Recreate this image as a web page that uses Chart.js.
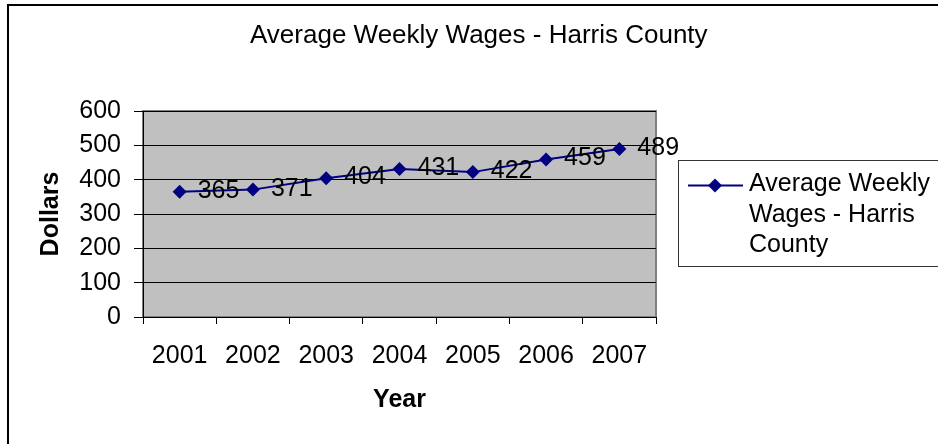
<!DOCTYPE html>
<html>
<head>
<meta charset="utf-8">
<title>Average Weekly Wages - Harris County</title>
<script src="https://cdn.jsdelivr.net/npm/chart.js@4/dist/chart.umd.min.js"></script>
<style>
  body { margin: 0; background: #ffffff; }
  canvas { display: block; }
</style>
</head>
<body>
<canvas id="myChart" width="938" height="444"></canvas>
<script>
// Datos del gráfico
var years = ['2001', '2002', '2003', '2004', '2005', '2006', '2007'];
var wages = [365, 371, 404, 431, 422, 459, 489];
var yTicks = [0, 100, 200, 300, 400, 500, 600];
var chartTitle = 'Average Weekly Wages - Harris County';
var legendLines = ['Average Weekly', 'Wages - Harris', 'County'];

var fontFamily = "'Liberation Sans', Arial, Helvetica, sans-serif";
var navy = '#000080';

Chart.defaults.font.family = fontFamily;
Chart.defaults.font.size = 25;
Chart.defaults.color = '#000000';

// Marco, fondo gris del área de trazado, título y leyenda al estilo Excel
var excelPlugin = {
    id: 'excelPlugin',
    beforeDraw: function (chart) {
        var ctx = chart.ctx;
        var area = chart.chartArea;
        ctx.save();
        ctx.fillStyle = '#ffffff';
        ctx.fillRect(0, 0, chart.width, chart.height);
        // borde exterior
        ctx.strokeStyle = '#000000';
        ctx.lineWidth = 2;
        ctx.strokeRect(8, 5, chart.width + 20, chart.height + 20);
        // área de trazado
        ctx.fillStyle = '#c0c0c0';
        ctx.fillRect(area.left, area.top, area.right - area.left, area.bottom - area.top);
        ctx.strokeStyle = '#808080';
        ctx.lineWidth = 2;
        ctx.strokeRect(area.left, area.top, area.right - area.left, area.bottom - area.top);
        ctx.restore();
    },
    afterDatasetsDraw: function (chart) {
        var ctx = chart.ctx;
        var meta = chart.getDatasetMeta(0);
        ctx.save();
        ctx.fillStyle = '#000000';
        ctx.font = '25px ' + fontFamily;
        ctx.textAlign = 'left';
        ctx.textBaseline = 'middle';
        for (var i = 0; i < meta.data.length; i++) {
            var p = meta.data[i];
            ctx.fillText(String(wages[i]), p.x + 18, p.y - 1);
        }
        ctx.restore();
    },
    afterDraw: function (chart) {
        var ctx = chart.ctx;
        ctx.save();
        // título
        ctx.fillStyle = '#000000';
        ctx.font = '26px ' + fontFamily;
        ctx.textAlign = 'left';
        ctx.textBaseline = 'alphabetic';
        ctx.fillText(chartTitle, 250, 43);

        // leyenda
        var boxLeft = 678.5, boxTop = 160.5, boxBottom = 266.5;
        ctx.fillStyle = '#ffffff';
        ctx.fillRect(boxLeft, boxTop, chart.width, boxBottom - boxTop);
        ctx.strokeStyle = '#333333';
        ctx.lineWidth = 1;
        ctx.strokeRect(boxLeft, boxTop, chart.width, boxBottom - boxTop);

        var ly = 185.5;
        ctx.strokeStyle = navy;
        ctx.lineWidth = 2;
        ctx.beginPath();
        ctx.moveTo(688, ly);
        ctx.lineTo(743, ly);
        ctx.stroke();
        ctx.fillStyle = navy;
        ctx.beginPath();
        ctx.moveTo(715, ly - 7);
        ctx.lineTo(722, ly);
        ctx.lineTo(715, ly + 7);
        ctx.lineTo(708, ly);
        ctx.closePath();
        ctx.fill();

        ctx.fillStyle = '#000000';
        ctx.font = '25px ' + fontFamily;
        for (var i = 0; i < legendLines.length; i++) {
            ctx.fillText(legendLines[i], 749, 191 + i * 30.7);
        }
        ctx.restore();
    }
};

var ctx = document.getElementById('myChart').getContext('2d');
var myChart = new Chart(ctx, {
    type: 'line',
    data: {
        labels: years,
        datasets: [{
            label: legendLines.join(' '),
            data: wages,
            borderColor: navy,
            backgroundColor: navy,
            borderWidth: 2,
            pointStyle: 'rectRot',
            pointRadius: 7,
            pointHoverRadius: 7,
            pointBorderWidth: 0,
            tension: 0
        }]
    },
    options: {
        responsive: false,
        animation: false,
        events: [],
        layout: {
            padding: { left: 10, right: 282, top: 111, bottom: 29 }
        },
        plugins: {
            legend: { display: false },
            title: { display: false },
            tooltip: { enabled: false }
        },
        scales: {
            x: {
                type: 'category',
                offset: true,
                grid: {
                    offset: true,
                    drawOnChartArea: false,
                    drawTicks: true,
                    tickLength: 7,
                    color: '#000000',
                    lineWidth: 1
                },
                border: { color: '#000000', width: 1 },
                ticks: { padding: 17, maxRotation: 0, autoSkip: false },
                title: {
                    display: true,
                    text: 'Year',
                    font: { weight: 'bold', size: 25 },
                    padding: { top: -3, bottom: 0 }
                }
            },
            y: {
                min: 0,
                max: 600,
                afterBuildTicks: function (scale) {
                    scale.ticks = yTicks.map(function (v) { return { value: v }; });
                },
                afterFit: function (scale) {
                    scale.width = 133;
                },
                grid: {
                    color: '#000000',
                    lineWidth: 1,
                    drawTicks: true,
                    tickLength: 9
                },
                border: { color: '#000000', width: 1 },
                ticks: { padding: 13, autoSkip: false, stepSize: 100 },
                title: {
                    display: true,
                    text: 'Dollars',
                    font: { weight: 'bold', size: 25 },
                    padding: { top: 26, bottom: 0 }
                }
            }
        }
    },
    plugins: [excelPlugin]
});
</script>
</body>
</html>
